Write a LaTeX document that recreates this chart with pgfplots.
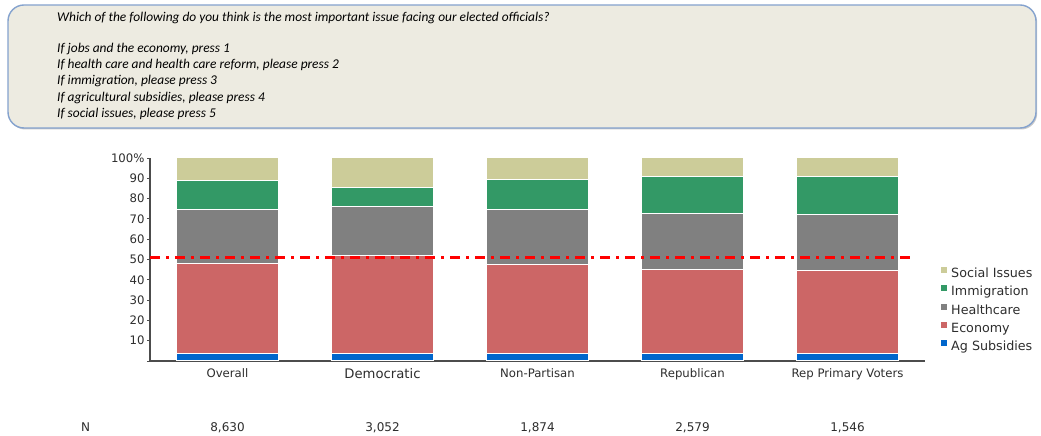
\documentclass[border=0pt]{standalone}
\usepackage{fontspec}
\setmainfont{Carlito}
\newfontfamily\vfont{DejaVu Sans}
\usepackage{pgfplots}
\usepackage{pgfplotstable}
\pgfplotsset{compat=1.18}
\usetikzlibrary{shadows}

\definecolor{socialc}{RGB}{204,204,153}
\definecolor{immc}{RGB}{51,153,102}
\definecolor{healthc}{RGB}{128,128,128}
\definecolor{econc}{RGB}{204,102,102}
\definecolor{agc}{RGB}{0,102,204}
\definecolor{boxfill}{RGB}{237,235,225}
\definecolor{boxline}{RGB}{132,162,206}
\definecolor{labelc}{RGB}{45,45,45}

% share of respondents (%) per group
\pgfplotstableread{
grp ag   econ health imm  social
0   3.7  44.2 26.6   14.5 11.0
1   3.9  48.2 24.2   9.4  14.3
2   3.9  43.5 27.1   15.1 10.4
3   3.5  41.6 27.8   18.2 8.9
4   3.9  40.5 28.0   18.7 8.9
}\issues

\begin{document}
\begin{tikzpicture}[x=1pt,y=1pt]
\useasboundingbox (0,0) rectangle (1041,436);

% question panel
\draw[boxline, line width=1.4pt, fill=boxfill, rounded corners=16pt,
      drop shadow={shadow xshift=1.2pt, shadow yshift=-1.5pt, opacity=0.35, fill=black!60}]
  (8,431) rectangle (1036,308);
\begin{scope}[every node/.style={anchor=base west, inner sep=0pt, font=\itshape\fontsize{13.4}{15}\selectfont}]
\node at (57,414.5) {Which of the following do you think is the most important issue facing our elected officials?};
\node at (57,383.7) {If jobs and the economy, press 1};
\node at (57,367.4) {If health care and health care reform, please press 2};
\node at (57,351.1) {If immigration, please press 3};
\node at (57,334.8) {If agricultural subsidies, please press 4};
\node at (57,318.5) {If social issues, please press 5};
\end{scope}

\begin{axis}[
  at={(150pt,75pt)}, anchor=south west,
  scale only axis, width=775pt, height=203pt,
  xmin=-0.5, xmax=4.5, ymin=0, ymax=100,
  ybar stacked, bar width=0.657,
  axis x line*=bottom, axis y line*=left,
  axis line style={-, black!70, line width=1.1pt},
  xtick={0,1,2,3,4},
  xticklabels={Overall, {\fontsize{13.2}{15}\selectfont Democratic}, Non-Partisan, Republican, Rep Primary Voters},
  x tick style={draw=none},
  ytick={0,10,20,30,40,50,60,70,80,90,100},
  yticklabels={,10,20,30,40,50,60,70,80,90,100\%},
  tick align=outside, major tick length=3pt,
  y tick style={black!70, line width=0.8pt},
  /pgf/number format/assume math mode=true,
  tick label style={font=\vfont\fontsize{11.7}{13}\selectfont, text=labelc},
  xticklabel style={yshift=-1pt},
  yticklabel style={xshift=1pt},
  legend cell align=left, reverse legend,
  legend style={at={(1.0194,0.47)}, anchor=north west, draw=none, fill=none,
    inner sep=0pt, column sep=3pt, row sep=4.9pt,
    font=\vfont\fontsize{12.7}{14}\selectfont, text=labelc,
    nodes={inner sep=0pt, text height=9pt, text depth=2pt}},
  legend image code/.code={\fill[#1] (0pt,0.5pt) rectangle (7pt,7.5pt);},
  every axis plot/.append style={draw=white, line width=1pt},
]
\addplot[fill=agc]     table[x=grp, y=ag]     {\issues};
\addplot[fill=econc]   table[x=grp, y=econ]   {\issues};
\addplot[fill=healthc] table[x=grp, y=health] {\issues};
\addplot[fill=immc]    table[x=grp, y=imm]    {\issues};
\addplot[fill=socialc] table[x=grp, y=social] {\issues};
\legend{Ag Subsidies, Economy, Healthcare, Immigration, Social Issues}
\end{axis}

% 51% reference line
\begin{axis}[
  at={(150pt,75pt)}, anchor=south west,
  scale only axis, width=775pt, height=203pt,
  xmin=-0.5, xmax=4.5, ymin=0, ymax=100,
  hide axis, clip=false,
]
\addplot[red, line width=2.8pt, no marks,
  dash pattern=on 10pt off 6pt on 3pt off 6pt]
  coordinates {(-0.5,51) (4.41,51)};
\end{axis}

% sample sizes
\begin{scope}[every node/.style={anchor=base, inner sep=0pt, font=\vfont\fontsize{12}{14}\selectfont, text=labelc}]
\node at (85.5,4.5) {N};
\node at (227.5,4.5) {8,630};
\node at (382.5,4.5) {3,052};
\node at (537.5,4.5) {1,874};
\node at (692.5,4.5) {2,579};
\node at (847.5,4.5) {1,546};
\end{scope}
\end{tikzpicture}
\end{document}
